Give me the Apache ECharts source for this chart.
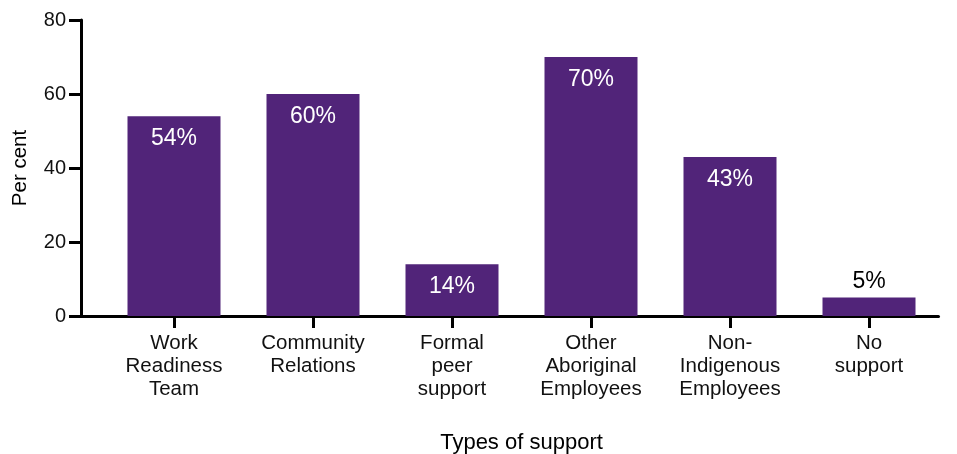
<!DOCTYPE html>
<html>
<head>
<meta charset="utf-8">
<script src="https://cdn.jsdelivr.net/npm/echarts@6/dist/echarts.min.js"></script>
<style>
  html, body { margin: 0; padding: 0; background: #ffffff; }
  #chart { width: 957px; height: 454px; }
</style>
</head>
<body>
<div id="chart"></div>
<script>
// Types of support used by employees
const categories = [
  'Work\nReadiness\nTeam',
  'Community\nRelations',
  'Formal\npeer\nsupport',
  'Other\nAboriginal\nEmployees',
  'Non-\nIndigenous\nEmployees',
  'No\nsupport'
];
const values = [54, 60, 14, 70, 43, 5];
const yTicks = [0, 20, 40, 60, 80];

const FONT = 'Liberation Sans, Arial, sans-serif';
const PURPLE = '#512479';

// Short bars carry their label above the bar in dark text
const barData = values.map(v => ({
  value: v,
  label: v < 10
    ? { position: 'top', color: '#000', distance: 4 }
    : { position: 'insideTop', color: '#fff', distance: 11 }
}));

const chart = echarts.init(document.getElementById('chart'), null, { renderer: 'canvas' });

const gridTop = 20, gridBottom = 138;

chart.setOption({
  animation: false,
  backgroundColor: '#ffffff',
  grid: [
    // bars
    { left: 104.5, right: 18.5, top: gridTop, bottom: gridBottom, containLabel: false, outerBoundsMode: 'none' },
    // frame: y axis and full-width baseline
    { left: 81, right: 18.5, top: gridTop, bottom: gridBottom, containLabel: false, outerBoundsMode: 'none' }
  ],
  xAxis: [
    {
      type: 'category',
      gridIndex: 0,
      data: categories,
      name: 'Types of support',
      nameLocation: 'middle',
      nameGap: 116,
      nameTextStyle: { fontFamily: FONT, fontSize: 22, color: '#000' },
      axisLine: { show: false },
      axisTick: { show: true, alignWithLabel: true, length: 12, lineStyle: { color: '#000', width: 3 } },
      axisLabel: { fontFamily: FONT, fontSize: 20.5, color: '#111', lineHeight: 23, margin: 16, interval: 0 }
    },
    {
      type: 'category',
      gridIndex: 1,
      data: categories,
      axisLine: { show: true, lineStyle: { color: '#000', width: 3 } },
      axisTick: { show: false },
      axisLabel: { show: false }
    }
  ],
  yAxis: [
    {
      type: 'value',
      gridIndex: 0,
      min: yTicks[0],
      max: yTicks[yTicks.length - 1],
      interval: 20,
      show: false
    },
    {
      type: 'value',
      gridIndex: 1,
      min: yTicks[0],
      max: yTicks[yTicks.length - 1],
      interval: 20,
      name: 'Per cent',
      nameLocation: 'middle',
      nameGap: 50,
      nameTextStyle: { fontFamily: FONT, fontSize: 20.5, color: '#000' },
      axisLine: { show: true, lineStyle: { color: '#000', width: 3 } },
      axisTick: { show: true, length: 12, lineStyle: { color: '#000', width: 3 } },
      axisLabel: { fontFamily: FONT, fontSize: 20, color: '#111', margin: 15 },
      splitLine: { show: false }
    }
  ],
  series: [
    {
      type: 'bar',
      xAxisIndex: 0,
      yAxisIndex: 0,
      data: barData,
      barWidth: 93,
      itemStyle: { color: PURPLE },
      label: {
        show: true,
        formatter: p => p.value + '%',
        fontFamily: FONT,
        fontSize: 23
      },
      z: 1
    }
  ]
});
</script>
</body>
</html>
